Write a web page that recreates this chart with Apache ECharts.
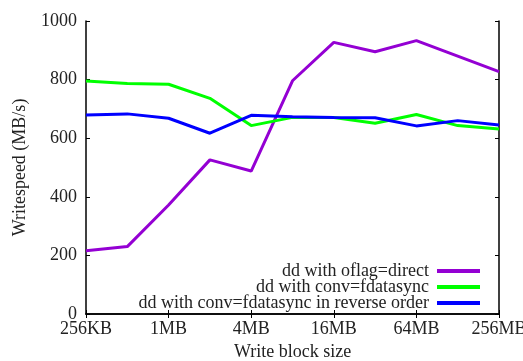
<!DOCTYPE html>
<html><head><meta charset="utf-8">
<script src="https://cdn.jsdelivr.net/npm/echarts@6/dist/echarts.min.js"></script>
<style>html,body{margin:0;padding:0;background:#fff}#c{width:523px;height:361px}</style>
</head><body><div id="c"></div>
<script>
var categories = ['256KB','512KB','1MB','2MB','4MB','8MB','16MB','32MB','64MB','128MB','256MB'];
var seriesNames = ['dd with oflag=direct','dd with conv=fdatasync','dd with conv=fdatasync in reverse order'];
var direct = [216, 230, 372, 526, 488, 796, 927, 895, 933, 880, 827];
var fdatasync = [795, 787, 784, 736, 643, 671, 671, 651, 681, 643, 631];
var reverse = [679, 683, 668, 617, 678, 673, 671, 670, 642, 660, 645];
var colors = ['#9400D3', '#00FF00', '#0000FF'];
var font = 'Liberation Serif';
var fs = 18;
var chart = echarts.init(document.getElementById('c'));
var axisLine = {show: true, lineStyle: {color: '#000', width: 1.5}};
var tick = {show: true, inside: true, length: 4, lineStyle: {color: '#000', width: 1}};
function mk(name, data, color) {
  return {name: name, type: 'line', data: data, symbol: 'none', smooth: false,
    lineStyle: {color: color, width: 3}, itemStyle: {color: color}, xAxisIndex: 0, yAxisIndex: 0};
}
chart.setOption({
  animation: false,
  grid: {left: 86, top: 21, right: 24, bottom: 47, containLabel: false, outerBoundsMode: 'none'},
  xAxis: [
    {type: 'category', data: categories, boundaryGap: false, position: 'bottom',
     axisLine: axisLine, axisTick: Object.assign({interval: 1}, tick),
     axisLabel: {interval: 1, fontFamily: font, fontSize: fs, color: '#222', margin: 6},
     splitLine: {show: false},
     name: 'Write block size', nameLocation: 'middle', nameGap: 29,
     nameTextStyle: {fontFamily: font, fontSize: fs, color: '#222'}},
    {type: 'category', data: categories, boundaryGap: false, position: 'top',
     axisLine: axisLine, axisTick: Object.assign({interval: 1}, tick),
     axisLabel: {show: false}, splitLine: {show: false}}
  ],
  yAxis: [
    {type: 'value', min: 0, max: 1000, interval: 200, position: 'left',
     axisLine: axisLine, axisTick: tick,
     axisLabel: {fontFamily: font, fontSize: fs, color: '#222', margin: 9, formatter: function (v) { return String(v); }},
     splitLine: {show: false},
     name: 'Writespeed (MB/s)', nameLocation: 'middle', nameGap: 57, nameRotate: 90,
     nameTextStyle: {fontFamily: font, fontSize: fs, color: '#222'}},
    {type: 'value', min: 0, max: 1000, interval: 200, position: 'right',
     axisLine: axisLine, axisTick: tick, axisLabel: {show: false}, splitLine: {show: false}}
  ],
  legend: {
    orient: 'vertical', right: 43, bottom: 49, align: 'right',
    itemWidth: 43, itemHeight: 4, itemGap: -2, icon: 'rect', padding: 0,
    textStyle: {fontFamily: font, fontSize: fs, color: '#222', lineHeight: 16, padding: [0, 3, 0, 0]},
    data: seriesNames
  },
  series: [mk(seriesNames[0], direct, colors[0]), mk(seriesNames[1], fdatasync, colors[1]), mk(seriesNames[2], reverse, colors[2])]
});
</script></body></html>
